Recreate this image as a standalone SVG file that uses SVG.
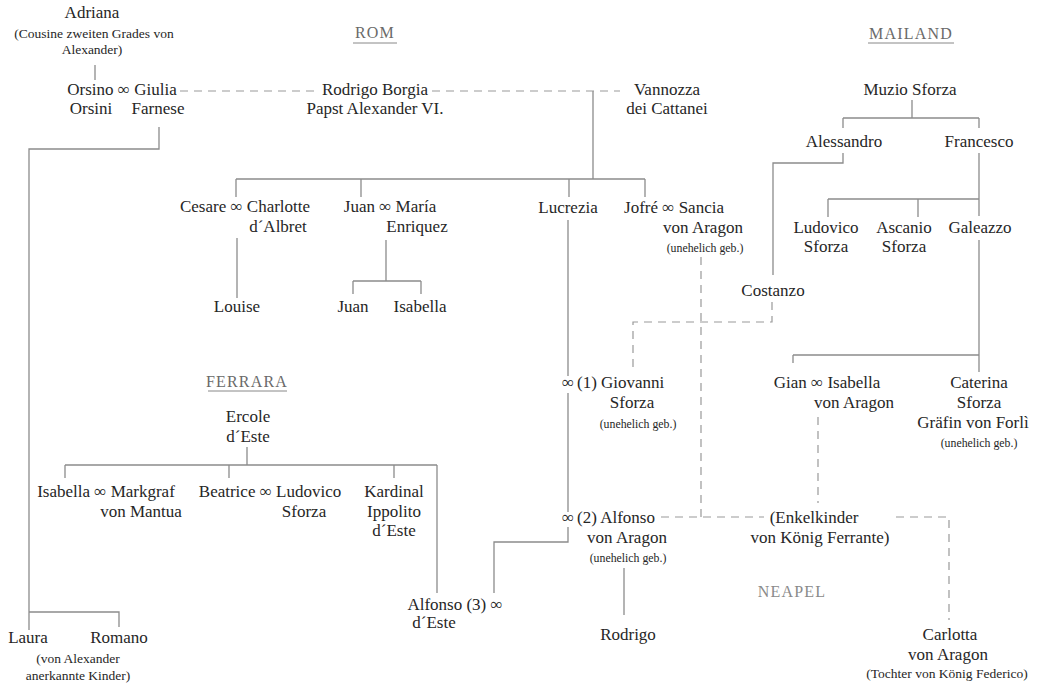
<svg xmlns="http://www.w3.org/2000/svg" width="1039" height="690" viewBox="0 0 1039 690">
<style>
text{font-family:"Liberation Serif","DejaVu Serif",serif;fill:#262626;text-anchor:middle}
.t{font-size:17px}
.s{font-size:11.8px}
.n{font-size:13.5px}
.st{text-anchor:start}
.h{font-size:16px;fill:#6a6a6a;letter-spacing:1.2px}
.np{fill:#8a8a8a}
.ln{fill:none;stroke:#8c8c8c;stroke-width:1.3}
.ds{fill:none;stroke:#999;stroke-width:1.2;stroke-dasharray:8 6}
.ul{stroke:#888;stroke-width:1}
</style>
<rect width="1039" height="690" fill="#fff"/>
<g id="connectors">
<path class="ln" d="M95 65V80"/>
<path class="ln" d="M159 127V149H29V630M29 612H119V627"/>
<path class="ln" d="M593 91V179M236 179H645M236 179V197M361 179V197M569 179V197M645 179V197"/>
<path class="ln" d="M237 238V298"/>
<path class="ln" d="M386 240V281M353 281H421M353 281V294M421 281V294"/>
<path class="ln" d="M568 220V376M568 393V512M568 527V542H494V593"/>
<path class="ln" d="M912 100V118M843 118H979M843 118V128M979 118V128"/>
<path class="ln" d="M843 153V163H773V275"/>
<path class="ln" d="M979 153V216M828 199H979M828 199V217M918 199V217"/>
<path class="ln" d="M979 240V372M793 355H979M793 355V363"/>
<path class="ln" d="M247 447V465M65 465H437M65 465V478M229 465V478M394 465V478M437 465V593"/>
<path class="ln" d="M624 568V615"/>
<path class="ds" d="M180 91H318"/>
<path class="ds" d="M432 91H620"/>
<path class="ds" d="M701 257V517"/>
<path class="ds" d="M772 302V322H633V370"/>
<path class="ds" d="M661 517H764"/>
<path class="ds" d="M818 417V503"/>
<path class="ds" d="M896 517H949V620"/>
</g>
<g id="headers">
<text class="h" x="375" y="38">ROM</text><line class="ul" x1="353" y1="43" x2="397" y2="43"/>
<text class="h" x="911" y="39">MAILAND</text><line class="ul" x1="868" y1="43" x2="954" y2="43"/>
<text class="h" x="247" y="387">FERRARA</text><line class="ul" x1="208" y1="391" x2="287" y2="391"/>
<text class="h np" x="792" y="597">NEAPEL</text>
</g>
<g id="adriana"><text class="t" x="92" y="18">Adriana</text><text class="n" x="94" y="38">(Cousine zweiten Grades von</text><text class="n" x="92" y="54">Alexander)</text></g>
<g id="orsino-giulia"><text class="t" x="122" y="95">Orsino ∞ Giulia</text><text class="t" x="91" y="114">Orsini</text><text class="t" x="158" y="114">Farnese</text></g>
<g id="rodrigo"><text class="t" x="375" y="95">Rodrigo Borgia</text><text class="t" x="375" y="114">Papst Alexander VI.</text></g>
<g id="vannozza"><text class="t" x="667" y="95">Vannozza</text><text class="t" x="667" y="114">dei Cattanei</text></g>
<g id="muzio"><text class="t" x="910" y="95">Muzio Sforza</text></g>
<g id="alessandro"><text class="t" x="844" y="147">Alessandro</text></g>
<g id="francesco"><text class="t" x="979" y="147">Francesco</text></g>
<g id="cesare"><text class="t" x="245" y="212">Cesare ∞ Charlotte</text><text class="t" x="278" y="232">d´Albret</text></g>
<g id="juan"><text class="t" x="390" y="212">Juan ∞ María</text><text class="t" x="417" y="232">Enriquez</text></g>
<g id="lucrezia"><text class="t" x="568" y="213">Lucrezia</text></g>
<g id="jofre"><text class="t" x="674" y="213">Jofré ∞ Sancia</text><text class="t" x="703" y="233">von Aragon</text><text class="s" x="705" y="252">(unehelich geb.)</text></g>
<g id="ludovico"><text class="t" x="826" y="233">Ludovico</text><text class="t" x="826" y="252">Sforza</text></g>
<g id="ascanio"><text class="t" x="904" y="233">Ascanio</text><text class="t" x="904" y="252">Sforza</text></g>
<g id="galeazzo"><text class="t" x="980" y="233">Galeazzo</text></g>
<g id="costanzo"><text class="t" x="773" y="296">Costanzo</text></g>
<g id="louise"><text class="t" x="237" y="312">Louise</text></g>
<g id="juan-jr"><text class="t" x="353" y="312">Juan</text></g>
<g id="isabella-b"><text class="t" x="420" y="312">Isabella</text></g>
<g id="ercole"><text class="t" x="248" y="422">Ercole</text><text class="t" x="248" y="442">d´Este</text></g>
<g id="isabella-e"><text class="t" x="106" y="497">Isabella ∞ Markgraf</text><text class="t" x="141" y="517">von Mantua</text></g>
<g id="beatrice"><text class="t" x="270" y="497">Beatrice ∞ Ludovico</text><text class="t" x="304" y="517">Sforza</text></g>
<g id="ippolito"><text class="t" x="394" y="497">Kardinal</text><text class="t" x="394" y="517">Ippolito</text><text class="t" x="394" y="536">d´Este</text></g>
<g id="giovanni"><text class="t" x="568" y="388">∞</text><text class="t st" x="577" y="388">(1) Giovanni</text><text class="t" x="632" y="408">Sforza</text><text class="s" x="638" y="428">(unehelich geb.)</text></g>
<g id="gian"><text class="t" x="827" y="388">Gian ∞ Isabella</text><text class="t" x="854" y="408">von Aragon</text></g>
<g id="caterina"><text class="t" x="979" y="388">Caterina</text><text class="t" x="979" y="408">Sforza</text><text class="t" x="973" y="428">Gräfin von Forlì</text><text class="s" x="979" y="447">(unehelich geb.)</text></g>
<g id="alfonso-aragon"><text class="t" x="568" y="523">∞</text><text class="t st" x="577" y="523">(2) Alfonso</text><text class="t" x="627" y="543">von Aragon</text><text class="s" x="628" y="562">(unehelich geb.)</text></g>
<g id="enkelkinder"><text class="t" x="814" y="523">(Enkelkinder</text><text class="t" x="820" y="543">von König Ferrante)</text></g>
<g id="alfonso-este"><text class="t" x="455" y="610">Alfonso (3) ∞</text><text class="t" x="434" y="628">d´Este</text></g>
<g id="rodrigo-jr"><text class="t" x="628" y="640">Rodrigo</text></g>
<g id="carlotta"><text class="t" x="950" y="640">Carlotta</text><text class="t" x="948" y="660">von Aragon</text><text class="n" x="947" y="678">(Tochter von König Federico)</text></g>
<g id="laura"><text class="t" x="28" y="643">Laura</text></g>
<g id="romano"><text class="t" x="119" y="643">Romano</text></g>
<g id="note-kinder"><text class="n" x="78" y="663">(von Alexander</text><text class="n" x="78" y="680">anerkannte Kinder)</text></g>
</svg>
